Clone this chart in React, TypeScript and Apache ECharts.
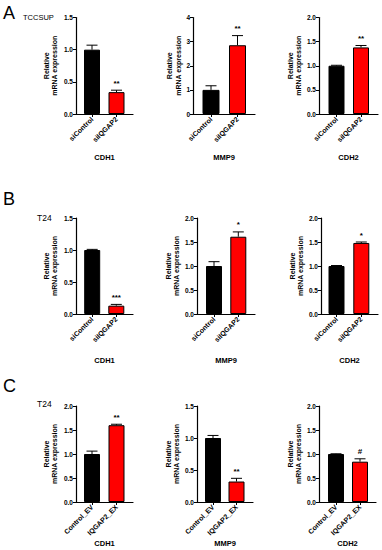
import React, { useEffect, useRef } from 'react';
import * as echarts from 'echarts';

// ---------- data ----------
const genes = ['CDH1', 'MMP9', 'CDH2'];
const siGroups = ['siControl', 'siIQGAP2'];
const exGroups = ['Control_EV', 'IQGAP2_EX'];

const aMeans = [[1.0, 0.34], [1.0, 2.85], [1.0, 1.38]];
const aErrors = [[0.07, 0.03], [0.17, 0.4], [0.01, 0.04]];
const aStars = ['**', '**', '**'];
const aYMax = [1.5, 4, 2.0];
const aYStep = [0.5, 1, 0.5];

const bMeans = [[1.0, 0.13], [1.0, 1.61], [1.0, 1.48]];
const bErrors = [[0.01, 0.02], [0.09, 0.1], [0.01, 0.02]];
const bStars = ['***', '*', '*'];
const bYMax = [1.5, 2.0, 2.0];
const bYStep = [0.5, 0.5, 0.5];

const cMeans = [[1.0, 1.6], [1.0, 0.32], [1.0, 0.84]];
const cErrors = [[0.06, 0.02], [0.04, 0.05], [0.005, 0.06]];
const cStars = ['**', '**', '#'];
const cYMax = [2.0, 1.5, 2.0];
const cYStep = [0.5, 0.5, 0.5];

const panelLetters = ['A', 'B', 'C'];
const cellLines = ['TCCSUP', 'T24', 'T24'];
const yTitle = 'Relative\nmRNA expression';

// ---------- layout (pixels) ----------
const rowLayout = [
  { top: 17.5, bottom: 114, geneGap: 39, letterY: 14, cellY: 17, cellX: 23, cellSize: 7.5 },
  { top: 218, bottom: 314, geneGap: 42, letterY: 200, cellY: 218, cellX: 37, cellSize: 8.5 },
  { top: 406, bottom: 502, geneGap: 37, letterY: 387, cellY: 404, cellX: 37, cellSize: 8.5 },
];
const colLayout = [
  [
    { x0: 76, x1: 133, c0: 92, c1: 116.5, nameGap: 17, bw: 16 },
    { x0: 193, x1: 255, c0: 211, c1: 237.5, nameGap: 10, bw: 17 },
    { x0: 319, x1: 378, c0: 336.5, c1: 361, nameGap: 15, bw: 16 },
  ],
  [
    { x0: 76, x1: 133, c0: 92.2, c1: 116.3, nameGap: 17, bw: 16 },
    { x0: 197, x1: 255, c0: 214, c1: 238.3, nameGap: 16, bw: 16 },
    { x0: 321, x1: 378, c0: 336.5, c1: 361.3, nameGap: 16, bw: 16 },
  ],
  [
    { x0: 76, x1: 133, c0: 92, c1: 116.5, nameGap: 17, bw: 16 },
    { x0: 197, x1: 253, c0: 213, c1: 236.5, nameGap: 16, bw: 16 },
    { x0: 319, x1: 376, c0: 336, c1: 360, nameGap: 16, bw: 16 },
  ],
];

const FONT = "'Liberation Sans', Arial, sans-serif";
const BAR_COLORS = ['#000000', '#ff0000'];

function buildOption() {
  const rows = [
    { means: aMeans, errs: aErrors, stars: aStars, ymax: aYMax, ystep: aYStep, groups: siGroups },
    { means: bMeans, errs: bErrors, stars: bStars, ymax: bYMax, ystep: bYStep, groups: siGroups },
    { means: cMeans, errs: cErrors, stars: cStars, ymax: cYMax, ystep: cYStep, groups: exGroups },
  ];
  const grid: any[] = [];
  const xAxis: any[] = [];
  const yAxis: any[] = [];
  const series: any[] = [];
  const graphic: any[] = [];

  rows.forEach((row, r) => {
    const rl = rowLayout[r];
    graphic.push({
      type: 'text', left: 3, top: rl.letterY - 10,
      style: { text: panelLetters[r], font: `18px ${FONT}`, fill: '#000' },
    });
    graphic.push({
      type: 'text', x: rl.cellX, y: rl.cellY,
      style: { text: cellLines[r], fontFamily: FONT, fontSize: rl.cellSize, fill: '#000', textVerticalAlign: 'middle' },
    });
    for (let c = 0; c < 3; c++) {
      const k = r * 3 + c;
      const cl = colLayout[r][c];
      const ppu = cl.c1 - cl.c0;
      const xmin = (cl.x0 - cl.c0) / ppu;
      const xmax = 1 + (cl.x1 - cl.c1) / ppu;
      const groups = row.groups;
      const step = row.ystep[c];
      grid.push({ left: cl.x0, top: rl.top, width: cl.x1 - cl.x0, height: rl.bottom - rl.top, containLabel: false });
      xAxis.push({
        type: 'value', gridIndex: k, min: xmin, max: xmax,
        name: genes[c], nameLocation: 'middle', nameGap: rl.geneGap,
        nameTextStyle: { fontFamily: FONT, fontSize: 7.5, fontWeight: 'bold', color: '#000' },
        axisLine: { show: true, onZero: false, lineStyle: { color: '#000', width: 1.2 } },
        axisTick: { show: true, customValues: [0, 1], length: 3, lineStyle: { color: '#000', width: 1 } },
        axisLabel: {
          customValues: [0, 1], rotate: 45, margin: 4,
          formatter: (v: number) => groups[Math.round(v)] ?? '',
          fontFamily: FONT, fontSize: 7, fontWeight: 'bold', color: '#000',
        },
        splitLine: { show: false },
      });
      yAxis.push({
        type: 'value', gridIndex: k, min: 0, max: row.ymax[c], interval: step,
        name: yTitle, nameLocation: 'middle', nameRotate: 90, nameGap: cl.nameGap,
        nameTextStyle: { fontFamily: FONT, fontSize: 7, fontWeight: 'bold', color: '#000', lineHeight: 8.5, align: 'center' },
        axisLine: { show: true, onZero: false, lineStyle: { color: '#000', width: 1.2 } },
        axisTick: { show: true, length: 3, lineStyle: { color: '#000', width: 1 } },
        axisLabel: {
          margin: 3, fontFamily: FONT, fontSize: 6.5, fontWeight: 'bold', color: '#000',
          formatter: (v: number) => (step >= 1 ? v.toFixed(0) : v.toFixed(1)),
        },
        splitLine: { show: false },
      });
      const means = row.means[c];
      const errs = row.errs[c];
      series.push({
        type: 'bar', xAxisIndex: k, yAxisIndex: k, barWidth: cl.bw,
        data: means.map((m, i) => ({ value: [i, m], itemStyle: { color: BAR_COLORS[i] } })),
        itemStyle: { borderColor: '#000', borderWidth: 1 },
        z: 2,
      });
      series.push({
        type: 'custom', xAxisIndex: k, yAxisIndex: k, z: 3,
        data: means.map((m, i) => [i, m, errs[i]]),
        encode: { x: 0, y: 1 },
        renderItem: (params: any, api: any) => {
          const x = api.value(0);
          const m = api.value(1);
          const e = api.value(2);
          const base = api.coord([x, m]);
          const top = api.coord([x, m + e]);
          const hw = 5.5;
          return {
            type: 'group',
            children: [
              { type: 'line', shape: { x1: base[0], y1: base[1], x2: top[0], y2: top[1] }, style: { stroke: '#000', lineWidth: 1 } },
              { type: 'line', shape: { x1: top[0] - hw, y1: top[1], x2: top[0] + hw, y2: top[1] }, style: { stroke: '#000', lineWidth: 1 } },
            ],
          };
        },
      });
      const star = row.stars[c];
      series.push({
        type: 'custom', xAxisIndex: k, yAxisIndex: k, z: 4,
        data: [[1, means[1] + errs[1]]],
        encode: { x: 0, y: 1 },
        renderItem: (params: any, api: any) => {
          const p = api.coord([api.value(0), api.value(1)]);
          return {
            type: 'text',
            x: p[0], y: p[1] - 3,
            style: {
              text: star, textAlign: 'center', textVerticalAlign: 'bottom',
              fontFamily: FONT, fontSize: 8, fontWeight: 'bold', fill: '#000',
            },
          };
        },
      });
    }
  });

  return { animation: false, backgroundColor: '#fff', grid, xAxis, yAxis, series, graphic };
}

export default function App() {
  const ref = useRef<HTMLDivElement>(null);
  useEffect(() => {
    if (!ref.current) return;
    const chart = echarts.init(ref.current, undefined, { renderer: 'svg' });
    chart.setOption(buildOption() as any);
    return () => chart.dispose();
  }, []);
  return (
    <div
      ref={ref}
      style={{ position: 'absolute', left: 0, top: 0, width: 382, height: 550, background: '#fff' }}
    />
  );
}
